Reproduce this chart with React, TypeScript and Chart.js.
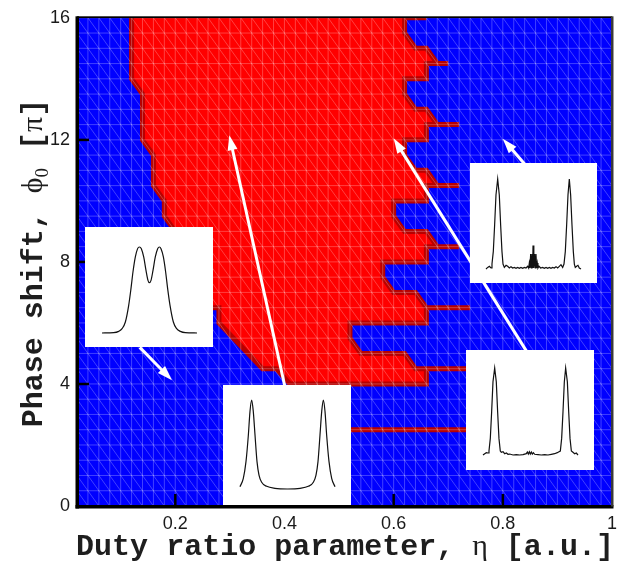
import React, { useEffect, useRef } from 'react';
import { Chart, registerables } from 'chart.js';

Chart.register(...registerables);

// ---------------- data ----------------
const xTickValues = [0.2, 0.4, 0.6, 0.8, 1];
const xTickLabels = ['0.2', '0.4', '0.6', '0.8', '1'];
const yTickValues = [0, 4, 8, 12, 16];
const yTickLabels = ['0', '4', '8', '12', '16'];

const X_MIN = 0.02;
const X_MAX = 1;
const Y_MIN = 0;
const Y_MAX = 16;

// boundary of the red region (duty ratio, phase shift)
const regionX = [
  0.12, 0.12, 0.14, 0.14, 0.16, 0.16, 0.18, 0.18, 0.2, 0.22, 0.24, 0.26, 0.26, 0.28, 0.28, 0.36, 0.385, 0.41,
  0.66, 0.66, 0.74, 0.64, 0.62, 0.54, 0.52, 0.52, 0.66, 0.66, 0.74, 0.66, 0.64, 0.6, 0.58, 0.58,
  0.66, 0.66, 0.72, 0.68, 0.66, 0.62, 0.6, 0.6, 0.66, 0.66, 0.72, 0.68, 0.66, 0.64, 0.62, 0.62,
  0.66, 0.66, 0.72, 0.68, 0.66, 0.64, 0.62, 0.62, 0.66, 0.66, 0.7, 0.68, 0.66, 0.64, 0.62, 0.62,
];
const regionY = [
  16.5, 14, 13.5, 12, 11.5, 10.5, 10, 9.5, 9, 8.5, 7.5, 7, 6.5, 6.5, 6, 4.5, 4.5, 4,
  4, 4.5, 4.5, 4.5, 5, 5, 5.5, 6, 6, 6.5, 6.5, 6.5, 7, 7, 7.5, 8,
  8, 8.5, 8.5, 8.5, 9, 9, 9.5, 10, 10, 10.5, 10.5, 10.5, 11, 11, 11.5, 12,
  12, 12.5, 12.5, 12.5, 13, 13, 13.5, 14, 14, 14.5, 14.5, 14.5, 15, 15, 15.5, 16.5,
];

// isolated red streaks
const streakX0 = [0.62, 0.52];
const streakX1 = [0.66, 0.74];
const streakY = [16, 2.5];

// white arrows (from -> to), in data units
const arrowFromX = [0.135, 0.401, 0.847, 0.845];
const arrowFromY = [5.2, 3.9, 4.97, 11.1];
const arrowToX = [0.194, 0.299, 0.6, 0.8];
const arrowToY = [4.12, 12.15, 12.05, 12.04];

// inset profiles (normalised position, normalised intensity)
const inset1X = [0, 0.123, 0.175, 0.211, 0.246, 0.281, 0.305, 0.326, 0.351, 0.375, 0.393, 0.414, 0.439, 0.463, 0.484, 0.498,
  0.516, 0.537, 0.561, 0.586, 0.604, 0.621, 0.646, 0.67, 0.691, 0.716, 0.751, 0.786, 0.825, 0.877, 1];
const inset1Y = [0, 0.004, 0.019, 0.05, 0.128, 0.322, 0.516, 0.709, 0.884, 0.981, 1, 0.981, 0.884, 0.729, 0.612, 0.585,
  0.612, 0.729, 0.884, 0.981, 1, 0.981, 0.884, 0.709, 0.516, 0.322, 0.128, 0.05, 0.019, 0.004, 0];

const inset2X = [0, 0.035, 0.063, 0.088, 0.105, 0.123, 0.14, 0.158, 0.179, 0.2, 0.228, 0.281, 0.368, 0.5,
  0.632, 0.719, 0.772, 0.8, 0.821, 0.842, 0.86, 0.877, 0.895, 0.912, 0.937, 0.965, 1];
const inset2Y = [0.026, 0.12, 0.307, 0.607, 0.87, 1, 0.87, 0.607, 0.307, 0.157, 0.075, 0.03, 0.007, 0,
  0.007, 0.03, 0.075, 0.157, 0.307, 0.607, 0.87, 1, 0.87, 0.607, 0.307, 0.12, 0.026];

const inset3X = [0, 0.018, 0.035, 0.053, 0.063, 0.077, 0.091, 0.105, 0.123, 0.14, 0.154, 0.168, 0.179, 0.193,
  0.211, 0.228, 0.246, 0.263, 0.281, 0.298, 0.316, 0.333, 0.351, 0.368, 0.386, 0.404, 0.421, 0.439, 0.449,
  0.456, 0.463, 0.47, 0.477, 0.484, 0.491, 0.495, 0.502, 0.505, 0.512, 0.519, 0.526, 0.533, 0.54, 0.547,
  0.558, 0.575, 0.596, 0.614, 0.632, 0.649, 0.667, 0.684, 0.702, 0.719, 0.737, 0.754, 0.772, 0.789, 0.807,
  0.821, 0.835, 0.849, 0.863, 0.877, 0.891, 0.905, 0.919, 0.93, 0.94, 0.954, 0.968, 0.982, 1];
const inset3Y = [0, 0.018, 0.03, 0.011, 0.055, 0.196, 0.491, 0.823, 1, 0.823, 0.491, 0.196, 0.055, 0.018,
  0.041, 0.03, 0.011, 0.026, 0.011, 0.018, 0.007, 0.018, 0.007, 0.018, 0.007, 0.018, 0.011, 0.03, 0.011,
  0.066, 0.011, 0.166, 0.011, 0.166, 0.011, 0.262, 0.262, 0.011, 0.166, 0.011, 0.166, 0.011, 0.066, 0.011,
  0.03, 0.011, 0.018, 0.007, 0.018, 0.007, 0.018, 0.007, 0.018, 0.011, 0.026, 0.011, 0.03, 0.048, 0.018,
  0.055, 0.196, 0.491, 0.823, 1, 0.823, 0.491, 0.196, 0.055, 0.018, 0.03, 0.041, 0.011, 0];

const inset4X = [0, 0.018, 0.035, 0.053, 0.063, 0.077, 0.091, 0.105, 0.123, 0.14, 0.154, 0.168, 0.182, 0.193,
  0.211, 0.228, 0.246, 0.263, 0.281, 0.316, 0.351, 0.386, 0.421, 0.456, 0.467, 0.477, 0.488, 0.498, 0.509,
  0.519, 0.53, 0.544, 0.579, 0.614, 0.649, 0.684, 0.719, 0.754, 0.782, 0.8, 0.814, 0.828, 0.842, 0.856, 0.87,
  0.888, 0.902, 0.916, 0.93, 0.947, 0.965, 0.982, 1];
const inset4Y = [0, 0.015, 0.027, 0.023, 0.046, 0.191, 0.496, 0.84, 1, 0.84, 0.496, 0.191, 0.046, 0.031,
  0.038, 0.015, 0.023, 0.008, 0.011, 0, 0.004, 0, 0.004, 0.015, 0.034, 0.011, 0.038, 0.011, 0.034,
  0.011, 0.027, 0.008, 0.004, 0, 0.004, 0, 0.008, 0.015, 0.027, 0.038, 0.046, 0.191, 0.496, 0.84, 1,
  0.84, 0.496, 0.191, 0.046, 0.031, 0.015, 0.023, 0];

// ---------------- layout / style ----------------
const W = 624;
const H = 561;
const AREA = { left: 77, right: 618, top: 13, bottom: 506 };
const MESH_DX = 0.02;
const MESH_DY = 0.5;
const RED = '#ff0000';
const DARK_RED = '#b80000';

const INSETS = [
  { left: 85, top: 227, w: 128, h: 120, pad: { left: 17, right: 16, top: 20, bottom: 14 }, xs: inset1X, ys: inset1Y, smooth: true },
  { left: 223, top: 385, w: 128, h: 120, pad: { left: 17, right: 16, top: 15, bottom: 16 }, xs: inset2X, ys: inset2Y, smooth: true },
  { left: 470, top: 163, w: 127, h: 120, pad: { left: 16, right: 16, top: 16, bottom: 14 }, xs: inset3X, ys: inset3Y, smooth: false },
  { left: 466, top: 350, w: 128, h: 120, pad: { left: 17, right: 16, top: 18, bottom: 15 }, xs: inset4X, ys: inset4Y, smooth: false },
];

const MONO = 'bold 30px "Liberation Mono", "Courier New", monospace';
const SERIF = '30px "Liberation Serif", "DejaVu Serif", serif';
const SUB = '19px "Liberation Serif", "DejaVu Serif", serif';
const TICK_FONT = { family: '"Liberation Sans", Arial, sans-serif', size: 18 };

type Part = { text: string; font: string; dy?: number };

function partsWidth(ctx: CanvasRenderingContext2D, parts: Part[]) {
  let w = 0;
  for (const p of parts) {
    ctx.font = p.font;
    w += ctx.measureText(p.text).width;
  }
  return w;
}
function drawParts(ctx: CanvasRenderingContext2D, parts: Part[], x: number, y: number) {
  let cx = x;
  for (const p of parts) {
    ctx.font = p.font;
    ctx.fillText(p.text, cx, y + (p.dy || 0));
    cx += ctx.measureText(p.text).width;
  }
}

function drawArrow(ctx: CanvasRenderingContext2D, x0: number, y0: number, x1: number, y1: number) {
  const ang = Math.atan2(y1 - y0, x1 - x0);
  const headLen = 15;
  const headW = 5;
  const c = Math.cos(ang);
  const s = Math.sin(ang);
  const bx = x1 - headLen * c;
  const by = y1 - headLen * s;
  ctx.strokeStyle = '#ffffff';
  ctx.lineWidth = 3;
  ctx.beginPath();
  ctx.moveTo(x0, y0);
  ctx.lineTo(bx + c * 2, by + s * 2);
  ctx.stroke();
  ctx.fillStyle = '#ffffff';
  ctx.beginPath();
  ctx.moveTo(x1, y1);
  ctx.lineTo(bx + headW * s, by - headW * c);
  ctx.lineTo(bx - headW * s, by + headW * c);
  ctx.closePath();
  ctx.fill();
}

const decorPlugin = {
  id: 'decor',
  beforeDatasetsDraw(chart: any) {
    const { ctx, chartArea: a } = chart;
    ctx.save();
    ctx.fillStyle = '#0000ff';
    ctx.fillRect(a.left, a.top, a.right - a.left, a.bottom - a.top);
    ctx.restore();
  },
  afterDatasetsDraw(chart: any) {
    const { ctx, chartArea: a } = chart;
    const xs = chart.scales.x;
    const ys = chart.scales.y;
    ctx.save();
    ctx.beginPath();
    ctx.rect(a.left, a.top, a.right - a.left, a.bottom - a.top);
    ctx.clip();
    // mesh
    ctx.strokeStyle = 'rgba(255,255,255,0.25)';
    ctx.lineWidth = 1;
    ctx.beginPath();
    for (let k = Math.ceil(X_MIN / MESH_DX - 1e-9); k * MESH_DX <= X_MAX + 1e-9; k++) {
      const px = xs.getPixelForValue(k * MESH_DX);
      ctx.moveTo(px, a.top);
      ctx.lineTo(px, a.bottom);
    }
    for (let j = Math.ceil(Y_MIN / MESH_DY); j * MESH_DY <= Y_MAX + 1e-9; j++) {
      const py = ys.getPixelForValue(j * MESH_DY);
      ctx.moveTo(a.left, py);
      ctx.lineTo(a.right, py);
    }
    const nY = Math.round((Y_MAX - Y_MIN) / MESH_DY);
    for (let k = Math.floor(X_MIN / MESH_DX) - nY; k * MESH_DX <= X_MAX + 1e-9; k++) {
      ctx.moveTo(xs.getPixelForValue(k * MESH_DX), ys.getPixelForValue(Y_MAX));
      ctx.lineTo(xs.getPixelForValue((k + nY) * MESH_DX), ys.getPixelForValue(Y_MIN));
    }
    ctx.stroke();
    // arrows
    for (let i = 0; i < arrowFromX.length; i++) {
      drawArrow(
        ctx,
        xs.getPixelForValue(arrowFromX[i]), ys.getPixelForValue(arrowFromY[i]),
        xs.getPixelForValue(arrowToX[i]), ys.getPixelForValue(arrowToY[i])
      );
    }
    ctx.restore();
  },
  afterDraw(chart: any) {
    const { ctx, chartArea: a } = chart;
    const xs = chart.scales.x;
    const ys = chart.scales.y;
    ctx.save();
    // frame
    ctx.fillStyle = '#000000';
    ctx.fillRect(a.left - 1.5, a.top - 1.5, 3.5, a.bottom - a.top + 4);
    ctx.fillRect(a.left - 1.5, a.bottom - 1, a.right - a.left + 3, 3.5);
    ctx.fillRect(a.left, a.top - 1.5, a.right - a.left, 1.8);
    ctx.fillStyle = '#3a3a3a';
    ctx.fillRect(a.right - 1, a.top - 1.5, 2.5, a.bottom - a.top + 2);
    // inner tick marks
    ctx.fillStyle = '#000000';
    for (const v of xTickValues) {
      if (v >= X_MAX) continue;
      const px = xs.getPixelForValue(v);
      ctx.fillRect(px - 1.2, a.bottom - 12, 2.5, 12);
    }
    for (const v of yTickValues) {
      if (v <= Y_MIN || v >= Y_MAX) continue;
      const py = ys.getPixelForValue(v);
      ctx.fillRect(a.left, py - 1.2, 12, 2.5);
    }
    // axis titles
    ctx.fillStyle = '#1e1e1e';
    ctx.textBaseline = 'alphabetic';
    ctx.textAlign = 'left';
    const xParts: Part[] = [
      { text: 'Duty ratio parameter, ', font: MONO },
      { text: 'η', font: SERIF },
      { text: ' [a.u.]', font: MONO },
    ];
    const xw = partsWidth(ctx, xParts);
    drawParts(ctx, xParts, 345 - xw / 2, 555);
    const yParts: Part[] = [
      { text: 'Phase shift, ', font: MONO },
      { text: 'ϕ', font: SERIF },
      { text: '0', font: SUB, dy: 6 },
      { text: ' [', font: MONO },
      { text: 'π', font: SERIF },
      { text: ']', font: MONO },
    ];
    const yw = partsWidth(ctx, yParts);
    ctx.translate(42, 263);
    ctx.rotate(-Math.PI / 2);
    drawParts(ctx, yParts, -yw / 2, 0);
    ctx.restore();
  },
};

export default function App() {
  const mainRef = useRef<HTMLCanvasElement | null>(null);
  const insetRefs = useRef<(HTMLCanvasElement | null)[]>([]);

  useEffect(() => {
    document.body.style.margin = '0';
    const charts: Chart[] = [];
    const regionPts = regionX.map((x, i) => ({ x, y: regionY[i] }));
    if (mainRef.current) {
      const main = new Chart(mainRef.current, {
        type: 'line',
        data: {
          datasets: [
            // outline of the region (drawn on top)
            {
              data: regionPts,
              borderColor: DARK_RED,
              borderWidth: 5,
              fill: false,
              pointRadius: 0,
              tension: 0,
              borderJoinStyle: 'miter',
              borderCapStyle: 'butt',
              clip: 0,
              order: 0,
            } as any,
            ...streakY.map((y, i) => ({
              data: [{ x: streakX0[i], y }, { x: streakX1[i], y }],
              borderColor: DARK_RED,
              borderWidth: 5,
              fill: false,
              pointRadius: 0,
              borderCapStyle: 'butt',
              clip: 0,
              order: 1,
            } as any)),
            // filled red region (drawn first)
            {
              data: regionPts,
              borderColor: RED,
              backgroundColor: RED,
              borderWidth: 0,
              fill: 'shape',
              pointRadius: 0,
              tension: 0,
              clip: 0,
              order: 2,
            } as any,
          ],
        },
        options: {
          responsive: false,
          animation: false,
          devicePixelRatio: 1,
          events: [],
          layout: { padding: { top: AREA.top, right: W - AREA.right, left: 0, bottom: 0 } },
          plugins: { legend: { display: false }, tooltip: { enabled: false } },
          scales: {
            x: {
              type: 'linear',
              min: X_MIN,
              max: X_MAX,
              grid: { display: false, drawTicks: false },
              border: { display: false },
              afterBuildTicks: (s: any) => {
                s.ticks = xTickValues.map((v) => ({ value: v }));
              },
              afterFit: (s: any) => {
                s.height = H - AREA.bottom;
              },
              ticks: {
                padding: 7,
                autoSkip: false,
                maxRotation: 0,
                color: '#1a1a1a',
                font: TICK_FONT,
                callback: (_v: any, i: number) => xTickLabels[i],
              },
            },
            y: {
              type: 'linear',
              min: Y_MIN,
              max: Y_MAX,
              grid: { display: false, drawTicks: false },
              border: { display: false },
              afterBuildTicks: (s: any) => {
                s.ticks = yTickValues.map((v) => ({ value: v }));
              },
              afterFit: (s: any) => {
                s.width = AREA.left;
              },
              ticks: {
                padding: 7,
                autoSkip: false,
                color: '#1a1a1a',
                font: TICK_FONT,
                callback: (_v: any, i: number) => yTickLabels[i],
              },
            },
          },
        } as any,
        plugins: [decorPlugin],
      });
      charts.push(main);
    }

    INSETS.forEach((b, i) => {
      const cv = insetRefs.current[i];
      if (!cv) return;
      const c = new Chart(cv, {
        type: 'line',
        data: {
          datasets: [
            {
              data: b.xs.map((x, k) => ({ x, y: b.ys[k] })),
              borderColor: '#111111',
              borderWidth: 1.2,
              pointRadius: 0,
              fill: false,
              cubicInterpolationMode: b.smooth ? 'monotone' : 'default',
              tension: 0,
              clip: false,
            } as any,
          ],
        },
        options: {
          responsive: false,
          animation: false,
          devicePixelRatio: 1,
          events: [],
          layout: { padding: b.pad },
          plugins: { legend: { display: false }, tooltip: { enabled: false } },
          scales: {
            x: { type: 'linear', min: 0, max: 1, display: false },
            y: { type: 'linear', min: 0, max: 1, display: false },
          },
        } as any,
      });
      charts.push(c);
    });

    return () => {
      charts.forEach((c) => c.destroy());
    };
  }, []);

  return (
    <div style={{ position: 'absolute', left: 0, top: 0, width: W, height: H, background: '#ffffff' }}>
      <canvas ref={mainRef} width={W} height={H} style={{ position: 'absolute', left: 0, top: 0 }} />
      {INSETS.map((b, i) => (
        <div
          key={i}
          style={{ position: 'absolute', left: b.left, top: b.top, width: b.w, height: b.h, background: '#ffffff' }}
        >
          <canvas
            ref={(el) => {
              insetRefs.current[i] = el;
            }}
            width={b.w}
            height={b.h}
            style={{ display: 'block' }}
          />
        </div>
      ))}
    </div>
  );
}
